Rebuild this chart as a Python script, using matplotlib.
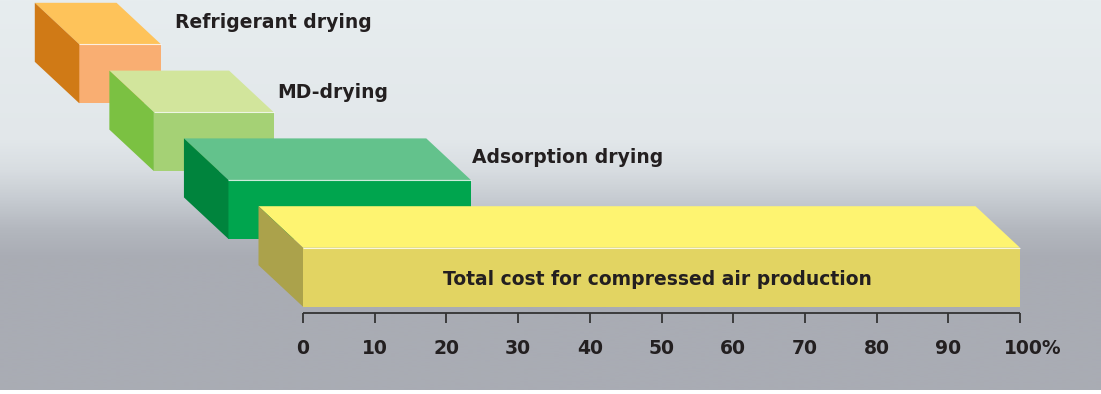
import matplotlib
matplotlib.use("Agg")
import matplotlib.pyplot as plt
import numpy as np
from matplotlib.patches import Polygon
from matplotlib.colors import LinearSegmentedColormap

# ---------------- data ----------------
categories = ["Refrigerant drying", "MD-drying", "Adsorption drying",
              "Total cost for compressed air production"]
values = [11.4, 16.7, 33.8, 100.0]          # % of total cost
tick_values = [0, 10, 20, 30, 40, 50, 60, 70, 80, 90, 100]
tick_labels = ["0", "10", "20", "30", "40", "50", "60", "70", "80", "90", "100%"]

# ---------------- styles ----------------
top_colors = ["#FEC35A", "#D2E59C", "#63C28C", "#FEF471"]
front_colors = ["#F9AE72", "#A5D175", "#00A54E", "#E2D462"]
side_colors = ["#D07A16", "#7BC142", "#00843D", "#ABA24B"]
text_color = "#231F20"
FONT = "DejaVu Sans"
FS = 13.5

W, H = 1101, 394
fig = plt.figure(figsize=(W / 100, H / 100), dpi=100)
fig.patch.set_facecolor("white")
ax = fig.add_axes([0, 0, 1, 1])

px0, px100 = 303.0, 1020.0
s = (px100 - px0) / 100.0            # pixels per percent
xl = (-px0 / s, (W - px0) / s)

# background gradient (vertical)
stops = [(0, "#E7EDEF"), (140, "#E2E7EA"), (170, "#D8DDE1"), (200, "#C6CBD1"),
         (230, "#B3B7BE"), (258, "#A9ACB4"), (390, "#A9ACB4")]
cmap = LinearSegmentedColormap.from_list("bg", [(p / 390.0, c) for p, c in stops])
grad = np.linspace(0, 1, 400).reshape(-1, 1)
ax.imshow(grad, cmap=cmap, aspect="auto", extent=[xl[0], xl[1], 390, 0],
          interpolation="bilinear", zorder=0)

ax.set_xlim(*xl)
ax.set_ylim(H, 0)
ax.axis("off")

# layout of the staggered 3D bars
front_h = 59.0
step_y = 67.8
bottom_last = 306.7
stagger = 10.4
start_last = 0.0
dx = -44.5 / s
dy = -41.5

n = len(categories)
for i, (cat, val) in enumerate(zip(categories, values)):
    k = n - 1 - i
    yb = bottom_last - step_y * k
    yt = yb - front_h
    x0 = start_last - stagger * k
    x1 = x0 + val
    z = 2 + i * 3
    ax.barh((yb + yt) / 2, val, left=x0, height=front_h,
            color=front_colors[i], edgecolor="none", zorder=z)
    ax.add_patch(Polygon([(x0, yt), (x1, yt), (x1 + dx, yt + dy), (x0 + dx, yt + dy)],
                         closed=True, facecolor=top_colors[i], edgecolor="none",
                         zorder=z))
    ax.add_patch(Polygon([(x0, yt), (x0, yb), (x0 + dx, yb + dy), (x0 + dx, yt + dy)],
                         closed=True, facecolor=side_colors[i], edgecolor="none",
                         zorder=z))
    ax.plot([x0, x1], [yt, yt], color="white", lw=0.8, alpha=0.8,
            zorder=z + 1, solid_capstyle="butt")

# labels
label_px = [(175, 28.3), (277, 97.7), (471.7, 163.3), (442.7, 285.0)]
for (lx, ly), cat in zip(label_px, categories):
    ax.text((lx - px0) / s, ly, cat, fontsize=FS, fontweight="bold",
            family=FONT, color=text_color, ha="left", va="baseline", zorder=20)

# axis with ticks
axis_y = 313.3
ax.plot([0, 100], [axis_y, axis_y], color="#333333", lw=1.3, zorder=15,
        solid_capstyle="butt")
ax.vlines(tick_values, axis_y, axis_y + 10, color="#333333", lw=1.3, zorder=15)
for tv, tl in zip(tick_values, tick_labels):
    shift = 13.0 / s if tl.endswith("%") else 0.0
    ax.text(tv + shift, 354.3, tl, fontsize=FS, fontweight="bold", family=FONT,
            color=text_color, ha="center", va="baseline", zorder=20)

fig.savefig("out.png", dpi=100, facecolor=fig.get_facecolor())
